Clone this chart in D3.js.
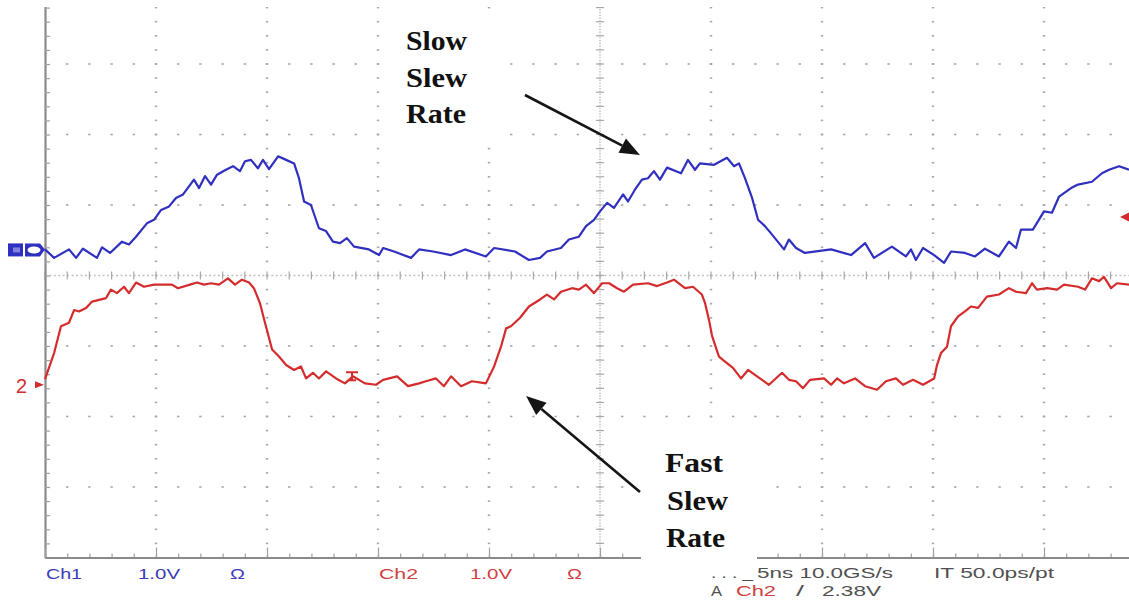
<!DOCTYPE html>
<html>
<head>
    <meta charset="utf-8">
    <title>Slow vs Fast Slew Rate</title>
    <script src="https://d3js.org/d3.v7.min.js"></script>
    <style>
        body { margin: 0; background: #ffffff; }
        .readout { font-family: "Liberation Sans", Arial, sans-serif; font-size: 15px; }
        .note { font-family: "Liberation Serif", "Times New Roman", serif; font-size: 28px; font-weight: bold; fill: #111111; }
    </style>
</head>
<body>
<div id="scope"></div>
<script>
    // Ch1 (blue, slow edge): [time ns, volts]
    var ch1Trace = [
        [0,0.00],[0.41,-0.12],[1.08,0.00],[1.40,-0.12],[1.71,0.01],[2.34,-0.12],[2.57,0.03],[2.93,-0.05],
        [3.47,0.11],[3.78,0.07],[4.10,0.18],[4.59,0.37],[4.91,0.42],[5.23,0.56],[5.59,0.61],[5.90,0.73],
        [6.22,0.78],[6.71,0.99],[6.94,0.87],[7.21,1.04],[7.48,0.92],[7.75,1.06],[8.15,1.13],[8.47,1.18],
        [8.78,1.11],[9.01,1.25],[9.28,1.27],[9.59,1.15],[9.82,1.27],[10.09,1.14],[10.50,1.32],[10.86,1.27],
        [11.22,1.22],[11.44,1.01],[11.67,0.68],[11.98,0.63],[12.34,0.30],[12.66,0.26],[12.97,0.11],[13.29,0.09],
        [13.60,0.16],[13.92,0.04],[14.59,0.00],[15.05,-0.08],[15.23,0.02],[15.72,-0.03],[16.49,-0.12],[16.85,0.00],
        [17.48,-0.03],[18.29,-0.08],[18.92,0.00],[19.86,-0.10],[20.23,0.02],[21.17,-0.03],[21.80,-0.15],[22.30,-0.12],
        [22.61,-0.03],[23.24,0.02],[23.60,0.14],[24.05,0.18],[24.37,0.33],[24.73,0.42],[25.00,0.54],[25.32,0.66],
        [25.63,0.59],[26.04,0.78],[26.26,0.68],[26.58,0.85],[26.89,0.99],[27.16,1.01],[27.43,1.11],[27.70,0.99],
        [28.02,1.16],[28.65,1.08],[28.96,1.27],[29.28,1.13],[29.50,1.22],[30.14,1.20],[30.72,1.30],[31.04,1.18],
        [31.26,1.22],[31.53,1.01],[31.85,0.73],[32.12,0.42],[32.43,0.33],[32.75,0.21],[33.29,0.00],[33.51,0.14],
        [33.83,0.02],[34.23,-0.05],[35.41,0.00],[36.31,-0.08],[36.94,0.09],[37.34,-0.12],[38.15,0.04],[38.78,-0.10],
        [39.01,0.00],[39.23,-0.15],[39.55,0.02],[40.05,-0.08],[40.50,-0.19],[40.81,-0.03],[41.44,-0.05],[41.89,-0.10],
        [42.34,0.01],[42.97,-0.10],[43.42,0.11],[43.74,0.02],[43.96,0.28],[44.50,0.28],[45.00,0.54],[45.36,0.52],
        [45.68,0.75],[46.22,0.87],[46.53,0.92],[47.16,0.96],[47.61,1.08],[47.93,1.13],[48.38,1.18],[48.83,1.13]
    ];

    // Ch2 (red, fast edge): [time ns, volts]
    var ch2Trace = [
        [0,0.08],[0.41,0.45],[0.72,0.83],[1.08,0.88],[1.31,1.06],[1.53,1.04],[1.85,1.09],[2.12,1.18],
        [2.75,1.23],[2.97,1.35],[3.24,1.30],[3.56,1.39],[3.78,1.30],[4.10,1.45],[4.46,1.39],[4.91,1.42],
        [5.72,1.42],[5.99,1.37],[6.53,1.42],[6.85,1.45],[7.16,1.42],[7.48,1.44],[7.84,1.42],[8.24,1.51],
        [8.56,1.42],[8.87,1.49],[9.19,1.45],[9.41,1.37],[9.68,1.16],[9.91,0.88],[10.23,0.50],[10.54,0.40],
        [10.86,0.28],[11.22,0.21],[11.53,0.26],[11.76,0.09],[12.07,0.17],[12.34,0.09],[12.66,0.19],[13.11,0.09],
        [13.51,0.02],[13.87,0.12],[14.41,0.02],[14.91,0.00],[15.23,0.07],[15.86,0.12],[16.35,-0.02],[16.85,0.02],
        [17.16,0.05],[17.61,0.09],[17.97,-0.02],[18.29,0.12],[18.74,-0.02],[19.23,0.05],[19.86,0.02],[20.23,0.26],
        [20.54,0.54],[20.77,0.80],[20.99,0.83],[21.40,0.95],[21.80,1.11],[22.30,1.21],[22.61,1.28],[22.93,1.21],
        [23.24,1.32],[23.74,1.37],[24.05,1.35],[24.37,1.42],[24.73,1.30],[25.09,1.44],[25.41,1.44],[25.77,1.37],
        [26.08,1.32],[26.49,1.42],[27.16,1.44],[27.57,1.40],[28.02,1.45],[28.33,1.49],[28.83,1.37],[29.19,1.39],
        [29.59,1.28],[29.73,1.16],[29.91,0.92],[30.05,0.69],[30.36,0.40],[30.59,0.34],[30.99,0.24],[31.35,0.09],
        [31.67,0.21],[31.98,0.14],[32.30,0.07],[32.61,0.00],[33.20,0.17],[33.51,0.07],[33.83,0.05],[34.14,-0.05],
        [34.46,0.07],[35.09,0.09],[35.41,0.00],[35.68,0.09],[35.99,0.02],[36.49,0.09],[36.94,-0.02],[37.48,-0.07],
        [37.88,0.05],[38.33,0.09],[38.65,0.00],[39.10,0.07],[39.55,0.00],[40.05,0.09],[40.18,0.28],[40.36,0.45],
        [40.63,0.54],[40.81,0.83],[41.13,0.97],[41.44,1.04],[41.71,1.11],[42.03,1.09],[42.43,1.25],[42.97,1.28],
        [43.42,1.37],[43.74,1.32],[44.19,1.30],[44.46,1.44],[44.68,1.35],[45.14,1.37],[45.59,1.35],[45.90,1.42],
        [46.53,1.39],[46.85,1.35],[47.16,1.51],[47.48,1.47],[47.70,1.53],[48.02,1.37],[48.29,1.44],[48.83,1.42]
    ];

    // scope settings
    var nsPerDiv = 5;
    var voltsPerDiv = [1.0, 1.0];
    var groundDiv = [0.37, -1.55];   // ground marker of each channel, divisions from centre
    var triggerLevel = 2.38;         // volts, on Ch2
    var triggerTime = 13.83;         // ns

    // readout texts
    var leftReadout = ["Ch1", "1.0V", "Ω", "Ch2", "1.0V", "Ω"];
    var rightReadoutTop = [". . . _", "5ns 10.0GS/s", "IT 50.0ps/pt"];
    var rightReadoutBottom = ["A", "Ch2", "/", "2.38V"];
    var slowNote = ["Slow", "Slew", "Rate"];
    var fastNote = ["Fast", "Slew", "Rate"];

    var width = 1129, height = 600;
    var originX = 45, centreY = 275.5, divW = 111, divH = 70.5;
    var blue = "#3030c0", red = "#d42c2c", gridGrey = "#a8a8a8";

    var svg = d3.select("#scope").append("svg")
        .attr("width", width)
        .attr("height", height)
        .style("display", "block");

    var x = d3.scaleLinear().domain([0, 10 * nsPerDiv]).range([originX, originX + 10 * divW]);
    var yDiv = d3.scaleLinear().domain([-4, 4]).range([centreY + 4 * divH, centreY - 4 * divH]);
    function y1(v) { return yDiv(v / voltsPerDiv[0] + groundDiv[0]); }
    function y2(v) { return yDiv(v / voltsPerDiv[1] + groundDiv[1]); }

    svg.append("defs").append("clipPath").attr("id", "screen")
        .append("rect").attr("x", 0).attr("y", 7).attr("width", width).attr("height", height);

    var grid = svg.append("g").attr("clip-path", "url(#screen)");

    // dotted division lines
    var subY = d3.range(-4, 4.001, 0.2);
    var subX = d3.range(0, 10 * nsPerDiv + 0.01, nsPerDiv / 5);
    d3.range(1, 10).filter(function(i) { return i !== 5; }).forEach(function(i) {
        grid.selectAll(null).data(subY).enter().append("rect")
            .attr("x", x(i * nsPerDiv) - 1.2)
            .attr("y", function(d) { return yDiv(d) - 0.8; })
            .attr("width", 2.4).attr("height", 1.6)
            .attr("fill", gridGrey);
    });
    [-3, -2, -1, 1, 2, 3].forEach(function(j) {
        grid.selectAll(null).data(subX.slice(1)).enter().append("rect")
            .attr("x", function(d) { return x(d) - 1.2; })
            .attr("y", yDiv(j) - 0.8)
            .attr("width", 2.4).attr("height", 1.6)
            .attr("fill", gridGrey);
    });

    // centre cross with ticks
    grid.append("line")
        .attr("x1", x(0)).attr("x2", x(10 * nsPerDiv))
        .attr("y1", yDiv(0)).attr("y2", yDiv(0))
        .attr("stroke", "#bdbdbd").attr("stroke-width", 1.4)
        .attr("stroke-dasharray", "1.8 2.64");
    grid.append("line")
        .attr("x1", x(5 * nsPerDiv)).attr("x2", x(5 * nsPerDiv))
        .attr("y1", yDiv(-4)).attr("y2", yDiv(4))
        .attr("stroke", "#bdbdbd").attr("stroke-width", 1.4)
        .attr("stroke-dasharray", "1.4 1.42");
    grid.selectAll(null).data(subX).enter().append("line")
        .attr("x1", function(d) { return x(d); }).attr("x2", function(d) { return x(d); })
        .attr("y1", yDiv(0) - 4).attr("y2", yDiv(0) + 4)
        .attr("stroke", gridGrey).attr("stroke-width", 1.2);
    grid.selectAll(null).data(subY).enter().append("line")
        .attr("x1", x(5 * nsPerDiv) - 4).attr("x2", x(5 * nsPerDiv) + 4)
        .attr("y1", function(d) { return yDiv(d); }).attr("y2", function(d) { return yDiv(d); })
        .attr("stroke", gridGrey).attr("stroke-width", 1.2);

    // left and bottom frame with ticks
    var leftAxis = grid.append("g")
        .attr("transform", "translate(" + originX + ",0)")
        .call(d3.axisRight(yDiv).tickValues(subY).tickSize(5).tickSizeOuter(0).tickFormat(""));
    var bottomMinor = grid.append("g")
        .attr("transform", "translate(0," + yDiv(-4) + ")")
        .call(d3.axisTop(x).tickValues(subX).tickSize(4).tickSizeOuter(0).tickFormat(""));
    var bottomMajor = grid.append("g")
        .attr("transform", "translate(0," + yDiv(-4) + ")")
        .call(d3.axisTop(x).tickValues(d3.range(0, 10 * nsPerDiv + 0.01, nsPerDiv)).tickSize(10).tickSizeOuter(0).tickFormat(""));
    [leftAxis, bottomMinor, bottomMajor].forEach(function(a) {
        a.select(".domain").attr("stroke", "#8a8a8a").attr("stroke-width", 2.2);
        a.selectAll(".tick line").attr("stroke", "#a0a0a0").attr("stroke-width", 1.2);
    });

    // traces
    var line1 = d3.line().x(function(d) { return x(d[0]); }).y(function(d) { return y1(d[1]); });
    var line2 = d3.line().x(function(d) { return x(d[0]); }).y(function(d) { return y2(d[1]); });
    svg.append("path").datum(ch1Trace)
        .attr("d", line1).attr("fill", "none")
        .attr("stroke", blue).attr("stroke-width", 2.2).attr("stroke-linejoin", "round");
    svg.append("path").datum(ch2Trace)
        .attr("d", line2).attr("fill", "none")
        .attr("stroke", red).attr("stroke-width", 2.2).attr("stroke-linejoin", "round");

    // trigger position mark on Ch2
    var tx = x(triggerTime), ty = y2(0.12);
    svg.append("path")
        .attr("d", "M" + (tx - 6) + "," + (ty - 4) + "H" + (tx + 6) + "M" + tx + "," + (ty - 4) + "V" + (ty + 4) + "M" + (tx - 4) + "," + (ty + 4) + "H" + (tx + 4))
        .attr("stroke", red).attr("stroke-width", 2).attr("fill", "none");

    // trigger level marker, right edge
    var tl = y2(triggerLevel);
    svg.append("path")
        .attr("d", "M1120," + tl + "L1130," + (tl - 5) + "L1130," + (tl + 5) + "Z")
        .attr("fill", red);

    // channel ground markers
    var g1 = y1(0);
    svg.append("rect").attr("x", 8).attr("y", g1 - 6).attr("width", 15).attr("height", 13).attr("fill", blue);
    svg.append("rect").attr("x", 13).attr("y", g1 - 2).attr("width", 7).attr("height", 5).attr("fill", "#8080e0");
    svg.append("path")
        .attr("d", "M25," + (g1 - 6) + "H40L45," + g1 + "L40," + (g1 + 7) + "H25Z")
        .attr("fill", blue);
    svg.append("ellipse").attr("cx", 34).attr("cy", g1 + 0.5).attr("rx", 6.5).attr("ry", 3.5).attr("fill", "#ffffff");
    var g2 = y2(0);
    svg.append("text").attr("class", "readout").attr("x", 16).attr("y", g2 + 8)
        .style("font-size", "20px").attr("fill", red).text("2");
    svg.append("path")
        .attr("d", "M35," + (g2 - 3.5) + "L44," + g2 + "L35," + (g2 + 3.5) + "Z")
        .attr("fill", red);

    // white label boxes
    svg.append("rect").attr("x", 388).attr("y", 12).attr("width", 118).attr("height", 128).attr("fill", "#ffffff");
    svg.append("rect").attr("x", 641).attr("y", 428).attr("width", 116).attr("height", 148).attr("fill", "#ffffff");

    // annotations
    var slowX = [406, 406, 406], slowY = [50, 87, 123], slowLen = [61, 61, 60];
    var fastX = [665, 667, 666], fastY = [472, 510, 547], fastLen = [58, 61, 59];
    slowNote.forEach(function(t, i) {
        svg.append("text").attr("class", "note").attr("x", slowX[i]).attr("y", slowY[i])
            .attr("textLength", slowLen[i]).attr("lengthAdjust", "spacingAndGlyphs").text(t);
    });
    fastNote.forEach(function(t, i) {
        svg.append("text").attr("class", "note").attr("x", fastX[i]).attr("y", fastY[i])
            .attr("textLength", fastLen[i]).attr("lengthAdjust", "spacingAndGlyphs").text(t);
    });

    function drawArrow(from, to) {
        var ax = x(from[0]), ay = yDiv(from[1]), bx = x(to[0]), by = yDiv(to[1]);
        var ang = Math.atan2(by - ay, bx - ax);
        var headLen = 20, headW = 8;
        var hx = bx - headLen * Math.cos(ang), hy = by - headLen * Math.sin(ang);
        svg.append("line").attr("x1", ax).attr("y1", ay).attr("x2", hx).attr("y2", hy)
            .attr("stroke", "#151515").attr("stroke-width", 2.6);
        svg.append("path")
            .attr("d", "M" + bx + "," + by +
                "L" + (hx + headW * Math.sin(ang)) + "," + (hy - headW * Math.cos(ang)) +
                "L" + (hx - headW * Math.sin(ang)) + "," + (hy + headW * Math.cos(ang)) + "Z")
            .attr("fill", "#151515");
    }
    drawArrow([21.62, 2.56], [26.80, 1.71]);
    drawArrow([26.80, -3.07], [21.67, -1.71]);

    // readouts
    var leftX = [46, 138, 230, 379, 470, 567], leftLen = [36, 42, 15, 39, 42, 15];
    var leftColor = ["#3a3ab4", "#3a3ab4", "#3a3ab4", "#d04040", "#d04040", "#d04040"];
    leftReadout.forEach(function(t, i) {
        svg.append("text").attr("class", "readout").attr("x", leftX[i]).attr("y", 579)
            .attr("textLength", leftLen[i]).attr("lengthAdjust", "spacingAndGlyphs")
            .attr("fill", leftColor[i]).text(t);
    });
    var topX = [711, 757, 934], topLen = [42, 136, 120];
    rightReadoutTop.forEach(function(t, i) {
        svg.append("text").attr("class", "readout").attr("x", topX[i]).attr("y", 578)
            .attr("textLength", topLen[i]).attr("lengthAdjust", "spacingAndGlyphs")
            .attr("fill", "#505050").text(t);
    });
    var botX = [711, 736, 796, 822], botLen = [11, 40, 8, 59];
    var botColor = ["#505050", "#d04040", "#505050", "#505050"];
    rightReadoutBottom.forEach(function(t, i) {
        svg.append("text").attr("class", "readout").attr("x", botX[i]).attr("y", 596)
            .attr("textLength", botLen[i]).attr("lengthAdjust", "spacingAndGlyphs")
            .attr("fill", botColor[i]).text(t);
    });
</script>
</body>
</html>
